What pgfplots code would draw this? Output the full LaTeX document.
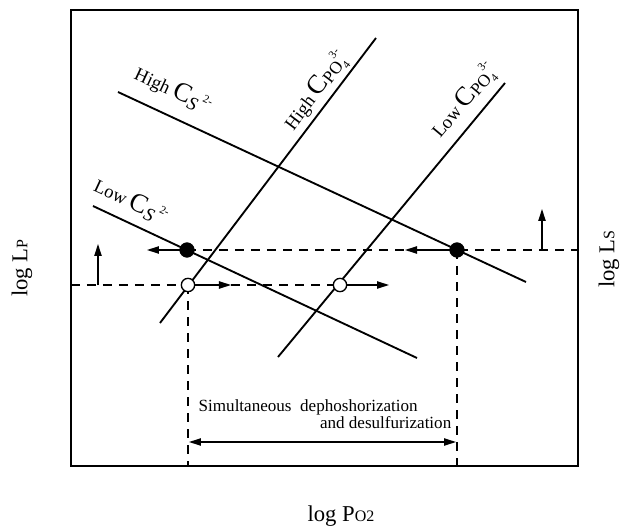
\documentclass[border=0pt]{standalone}
\usepackage{fontspec}
\setmainfont{Liberation Serif}
\usepackage{pgfplots}
\pgfplotsset{compat=1.18}
\usetikzlibrary{arrows.meta}

% C with sulfide / phosphate subscripts, as set in the figure
\newcommand{\Csulf}{{\fontsize{20}{20}\selectfont C}\raisebox{-0.45ex}{\fontsize{14}{14}\selectfont\itshape S}\,\raisebox{1.0ex}{\fontsize{8.5}{8.5}\selectfont 2-}}
\newcommand{\Cphos}{{\fontsize{20}{20}\selectfont C}\raisebox{-0.2ex}{\fontsize{13}{13}\selectfont PO}\rlap{\raisebox{-0.7ex}{\fontsize{8.5}{8.5}\selectfont 4}}\raisebox{1.3ex}{\fontsize{8.5}{8.5}\selectfont 3-}}

\begin{document}
\begin{tikzpicture}[font=\fontsize{14}{16}\selectfont,
  dsh/.style={black, line width=0.9pt, dash pattern=on 7pt off 5pt},
  arr/.style={black, line width=0.9pt, -{Triangle[length=9pt,width=5.5pt]}}]
\begin{axis}[
  x=0.75pt, y=0.75pt,
  xmin=71, xmax=578, ymin=61, ymax=517,
  axis line style={line width=1pt},
  ticks=none, clip=false,
]
\path (axis cs:0,0) rectangle (axis cs:636,527);

% slag capacity lines
\addplot[black, line width=1.4pt] coordinates {(118,435) (526,245)}; % high Cs
\addplot[black, line width=1.4pt] coordinates {(93,321) (417,169)};  % low Cs
\addplot[black, line width=1.4pt] coordinates {(160,204) (376,489)}; % high CPO4
\addplot[black, line width=1.4pt] coordinates {(278,170) (505,444)}; % low CPO4

% dashed guides
\addplot[dsh] coordinates {(187,277) (578,277)};
\addplot[dsh] coordinates {(71,242) (340,242)};
\addplot[dsh] coordinates {(188,242) (188,61)};
\addplot[dsh] coordinates {(457,277) (457,61)};

% shifts
\draw[arr] (axis cs:187,277) -- (axis cs:147,277);
\draw[arr] (axis cs:457,277) -- (axis cs:405,277);
\draw[arr] (axis cs:188,242) -- (axis cs:231,242);
\draw[arr] (axis cs:340,242) -- (axis cs:389,242);
\draw[arr] (axis cs:98,242) -- (axis cs:98,283);
\draw[arr] (axis cs:542,277) -- (axis cs:542,318);
\draw[black, line width=0.9pt, {Triangle[length=9pt,width=5.5pt]}-{Triangle[length=9pt,width=5.5pt]}]
  (axis cs:189,85) -- (axis cs:456,85);

% points
\addplot[only marks, mark=*, mark size=5.5pt, black] coordinates {(187,277) (457,277)};
\addplot[only marks, mark=*, mark size=5pt, black, fill=white, line width=1pt]
  coordinates {(188,242) (340,242)};

% line labels
\node[rotate=-25] at (axis cs:173,437) {High \Csulf};
\node[rotate=-25] at (axis cs:131,326) {Low \Csulf};
\node[rotate=53] at (axis cs:316,436) {High \Cphos};
\node[rotate=50] at (axis cs:464,426) {Low \Cphos};

\node[anchor=west, font=\fontsize{12.8}{14}\selectfont] at (axis cs:194,120) {Simultaneous\ \ dephoshorization};
\node[anchor=east, font=\fontsize{12.8}{14}\selectfont] at (axis cs:456,104) {and desulfurization};

% axis titles
\node[rotate=90, font=\fontsize{17}{19}\selectfont] at (axis cs:22,259) {log L{\fontsize{12}{12}\selectfont P}};
\node[rotate=90, font=\fontsize{17}{19}\selectfont] at (axis cs:609,268) {log L{\fontsize{12}{12}\selectfont S}};
\node[font=\fontsize{17}{19}\selectfont] at (axis cs:341,11) {log P{\fontsize{12}{12}\selectfont O2}};
\end{axis}
\end{tikzpicture}
\end{document}
